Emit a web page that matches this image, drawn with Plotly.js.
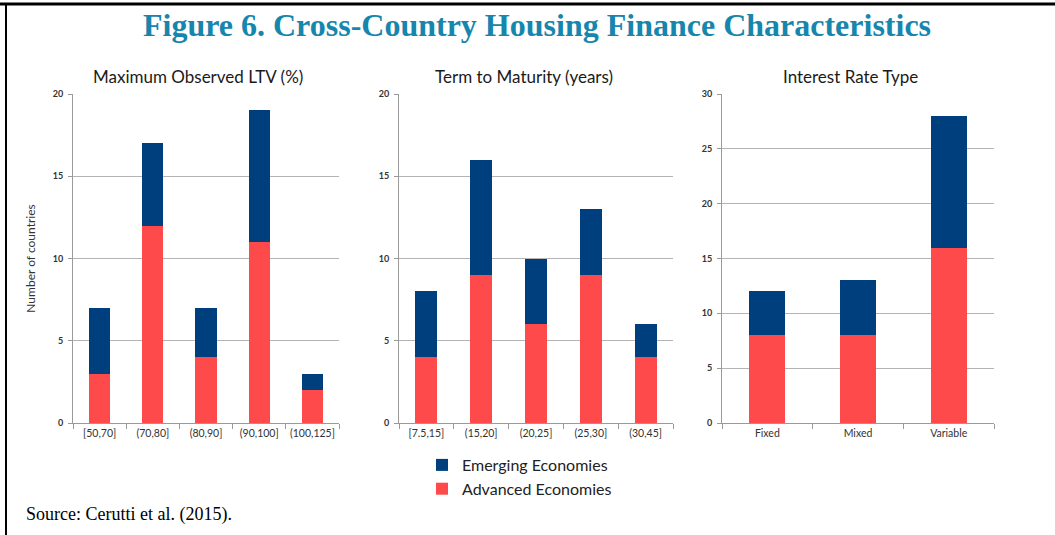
<!DOCTYPE html>
<html>
<head>
<meta charset="utf-8">
<script src="https://cdn.plot.ly/plotly-3.0.1.min.js"></script>
<style>
html,body{margin:0;padding:0;background:#fff;}
#chart{width:1055px;height:535px;}
</style>
</head>
<body>
<div id="chart"></div>
<script>
// ---- data ----
const ltvCats = ['[50,70]', '(70,80]', '(80,90]', '(90,100]', '(100,125]'];
const ltvAdvanced = [3, 12, 4, 11, 2];
const ltvEmerging = [4, 5, 3, 8, 1];

const termCats = ['[7.5,15]', '(15,20]', '(20,25]', '(25,30]', '(30,45]'];
const termAdvanced = [4, 9, 6, 9, 4];
const termEmerging = [4, 7, 4, 4, 2];

const rateCats = ['Fixed', 'Mixed', 'Variable'];
const rateAdvanced = [8, 8, 16];
const rateEmerging = [4, 5, 12];

const seriesNames = ['Advanced Economies', 'Emerging Economies'];
const panelTitles = ['Maximum Observed LTV (%)', 'Term to Maturity (years)', 'Interest Rate Type'];

// ---- styling ----
const W = 1055, H = 535;
const px = x => x / W;
const py = y => 1 - y / H;
const RED = '#fe4a4a', NAVY = '#003f7d';
const FONT = 'Lato, "Open Sans", sans-serif';

const panels = [
  {cats: ltvCats, adv: ltvAdvanced, emg: ltvEmerging, x0: 73, x1: 339, ymax: 20, title: panelTitles[0], tx: 198},
  {cats: termCats, adv: termAdvanced, emg: termEmerging, x0: 399, x1: 673, ymax: 20, title: panelTitles[1], tx: 524},
  {cats: rateCats, adv: rateAdvanced, emg: rateEmerging, x0: 722, x1: 994, ymax: 30, title: panelTitles[2], tx: 850}
];
const yTop = 94, yBot = 423;

const data = [];
const layout = {
  width: W, height: H,
  margin: {l: 0, r: 0, t: 0, b: 0},
  paper_bgcolor: '#fff', plot_bgcolor: '#fff',
  barmode: 'stack', bargap: 0.6,
  showlegend: true,
  legend: {
    x: px(422), y: py(448), xanchor: 'left', yanchor: 'top',
    traceorder: 'reversed', itemwidth: 30,
    font: {family: FONT, size: 16, color: '#222'},
    tracegroupgap: 0, bgcolor: 'rgba(0,0,0,0)'
  },
  title: {
    text: '<b>Figure 6. Cross-Country Housing Finance Characteristics</b>',
    font: {family: '"Liberation Serif", "Times New Roman", serif', size: 32, color: '#1786ad'},
    x: px(537), xanchor: 'center', y: py(25), yanchor: 'middle'
  },
  annotations: [],
  shapes: [
    {type: 'line', xref: 'paper', yref: 'paper', x0: 0, x1: 1, y0: py(4), y1: py(4), line: {color: '#000', width: 3}},
    {type: 'line', xref: 'paper', yref: 'paper', x0: px(6), x1: px(6), y0: py(3), y1: 0, line: {color: '#000', width: 2}}
  ]
};

panels.forEach((p, i) => {
  const n = i === 0 ? '' : String(i + 1);
  const xa = 'x' + n, ya = 'y' + n;
  data.push({
    type: 'bar', x: p.cats, y: p.adv, name: seriesNames[0],
    marker: {color: RED}, xaxis: xa, yaxis: ya, showlegend: i === 0, legendgroup: 'adv'
  });
  data.push({
    type: 'bar', x: p.cats, y: p.emg, name: seriesNames[1],
    marker: {color: NAVY}, xaxis: xa, yaxis: ya, showlegend: i === 0, legendgroup: 'emg'
  });
  layout['xaxis' + n] = {
    domain: [px(p.x0), px(p.x1)], anchor: ya, type: 'category',
    showline: true, linecolor: '#9a9a9a', linewidth: 1,
    ticks: 'outside', tickson: 'boundaries', ticklen: 5, tickcolor: '#9a9a9a',
    showgrid: false, tickangle: 0,
    tickfont: {family: FONT, size: 10.5, color: '#333'},
    fixedrange: true
  };
  layout['yaxis' + n] = {
    domain: [py(yBot), py(yTop)], anchor: xa,
    range: [0, p.ymax], dtick: 5, tick0: 0,
    showline: true, linecolor: '#9a9a9a', linewidth: 1,
    ticks: 'outside', ticklen: 4, tickcolor: '#9a9a9a',
    showgrid: true, gridcolor: '#b4b4b4', gridwidth: 1, zeroline: false,
    tickfont: {family: FONT, size: 9, color: '#333', weight: 'bold'},
    ticklabelstandoff: 3,
    fixedrange: true
  };
  layout.annotations.push({
    text: p.title, xref: 'paper', yref: 'paper', x: px(p.tx), y: py(77),
    xanchor: 'center', yanchor: 'middle', showarrow: false,
    font: {family: FONT, size: 17, color: '#1a1a1a'}
  });
});

layout.yaxis.title = {text: 'Number of countries', font: {family: FONT, size: 12, color: '#333'}, standoff: 14};

layout.annotations.push({
  text: 'Source: Cerutti et al. (2015).', xref: 'paper', yref: 'paper',
  x: px(24), y: py(514), xanchor: 'left', yanchor: 'middle', showarrow: false,
  font: {family: '"Liberation Serif", "Times New Roman", serif', size: 18, color: '#000'}
});

Plotly.newPlot('chart', data, layout, {displayModeBar: false, staticPlot: true});
</script>
</body>
</html>
